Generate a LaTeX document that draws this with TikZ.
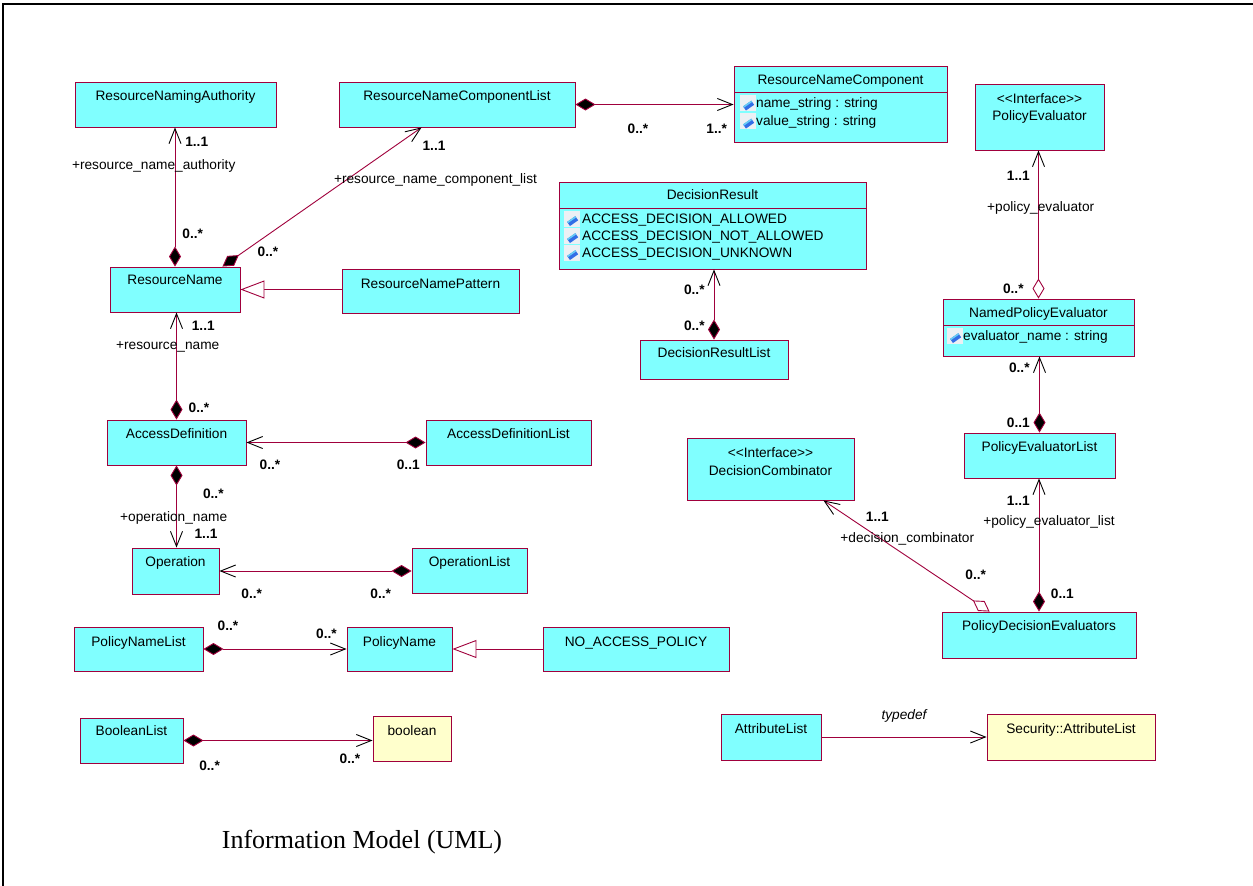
\documentclass[tikz,border=0pt]{standalone}
\usepackage{fontspec}
\newfontfamily\arialf{Liberation Sans}
\newfontfamily\timesf{Liberation Serif}
\usetikzlibrary{arrows.meta,fit,calc}
\definecolor{umlred}{RGB}{160,0,60}
\definecolor{boxcyan}{RGB}{128,255,255}
\definecolor{boxyellow}{RGB}{255,255,204}
\definecolor{iconblue}{RGB}{50,110,230}
\definecolor{iconbg}{RGB}{236,240,244}
\newcommand{\attricon}[2]{%
  \fill[iconbg] ({#1-8},{#2-8}) rectangle ({#1+8},{#2+8});
  \fill[iconblue, rotate around={35:(#1,#2)}] ({#1-6},{#2}) rectangle ({#1+4},{#2+5});
  \fill[cyan!60, rotate around={35:(#1,#2)}] ({#1-6},{#2}) rectangle ({#1+4},{#2+1.5});
}
\tikzset{
  cls/.style={draw=umlred, fill=boxcyan, line width=0.9pt, inner sep=0pt},
  ylw/.style={cls, fill=boxyellow},
  sepline/.style={draw=umlred, line width=0.9pt},
  conn/.style={draw=umlred, line width=0.9pt},
  barb/.tip={Straight Barb[length=15pt,width=12pt,color=black]},
  nav/.style={conn, -barb},
  comp/.style={conn, {Diamond[length=20pt,width=12pt,fill=black]}-barb},
  agg/.style={conn, {Diamond[length=20pt,width=12pt,fill=white]}-barb},
  gen/.style={conn, -{Triangle[length=24pt,width=18pt,fill=white]}},
  txt/.style={font=\arialf\fontsize{13.7}{16}\selectfont, inner sep=0pt, anchor=base},
  attr/.style={txt, anchor=base west},
  mult/.style={font=\arialf\bfseries\fontsize{13.7}{16}\selectfont, inner sep=0pt, anchor=base},
  role/.style={txt},
}
\begin{document}
\begin{tikzpicture}[x=1pt,y=-1pt]
\useasboundingbox (0,0) rectangle (1253,886);
\fill[white] (0,0) rectangle (1253,886);
% frame
\draw[line width=1.6pt] (3,886) -- (3,4) -- (1253,4);

% ---------- classes ----------
\node[cls, fit={(75,82)(276,127)}] (rna) {};
\node[txt] (rna-t) at (175.5,100.5) {ResourceNamingAuthority};

\node[cls, fit={(339,82)(575,127)}] (rncl) {};
\node[txt] (rncl-t) at (457,100.5) {ResourceNameComponentList};

\node[cls, fit={(734,66)(947,142)}] (rnc) {};
\node[txt] (rnc-t) at (840.5,84.3) {ResourceNameComponent};
\draw[sepline] (734,92) -- (947,92);
\attricon{748}{103}
\attricon{748}{121}
\node[attr] (rnc-a1) at (756,107.7) {name\_string : string};
\node[attr] (rnc-a2) at (756,125.7) {value\_string : string};

\node[cls, fit={(975,84)(1104,150)}] (pe) {};
\node[txt] (pe-s) at (1039.5,103.3) {<<Interface>>};
\node[txt] (pe-t) at (1039.5,120.7) {PolicyEvaluator};

\node[cls, fit={(559,182)(866,269)}] (dr) {};
\node[txt] (dr-t) at (712.5,199) {DecisionResult};
\draw[sepline] (559,208) -- (866,208);
\attricon{572}{218.5}
\attricon{572}{235.5}
\attricon{572}{252.5}
\node[attr] (dr-a1) at (582,223.3) {ACCESS\_DECISION\_ALLOWED};
\node[attr] (dr-a2) at (582,240.3) {ACCESS\_DECISION\_NOT\_ALLOWED};
\node[attr] (dr-a3) at (582,257.7) {ACCESS\_DECISION\_UNKNOWN};

\node[cls, fit={(640,340)(788,379)}] (drl) {};
\node[txt] (drl-t) at (714,357.7) {DecisionResultList};

\node[cls, fit={(943,299)(1134,356)}] (npe) {};
\node[txt] (npe-t) at (1038.5,317.3) {NamedPolicyEvaluator};
\draw[sepline] (943,325) -- (1134,325);
\attricon{955}{335.5}
\node[attr] (npe-a1) at (963,340) {evaluator\_name : string};

\node[cls, fit={(964,433)(1115,478)}] (pel) {};
\node[txt] (pel-t) at (1039.5,451.7) {PolicyEvaluatorList};

\node[cls, fit={(110,267)(240,312)}] (rn) {};
\node[txt] (rn-t) at (175,284.3) {ResourceName};

\node[cls, fit={(342,269)(519,313)}] (rnp) {};
\node[txt] (rnp-t) at (430.5,288) {ResourceNamePattern};

\node[cls, fit={(107,420)(246,465)}] (ad) {};
\node[txt] (ad-t) at (176.5,438.3) {AccessDefinition};

\node[cls, fit={(426,420)(591,465)}] (adl) {};
\node[txt] (adl-t) at (508.5,438.3) {AccessDefinitionList};

\node[cls, fit={(132,548)(219,594)}] (op) {};
\node[txt] (op-t) at (175.5,566) {Operation};

\node[cls, fit={(412,548)(527,593)}] (opl) {};
\node[txt] (opl-t) at (469.5,566.3) {OperationList};

\node[cls, fit={(687,438)(854,500)}] (dc) {};
\node[txt] (dc-s) at (770.5,457.3) {<<Interface>>};
\node[txt] (dc-t) at (770.5,475.7) {DecisionCombinator};

\node[cls, fit={(942,612)(1136,658)}] (pde) {};
\node[txt] (pde-t) at (1039,630) {PolicyDecisionEvaluators};

\node[cls, fit={(74,627)(203,671)}] (pnl) {};
\node[txt] (pnl-t) at (138.5,646.7) {PolicyNameList};

\node[cls, fit={(347,627)(452,671)}] (pn) {};
\node[txt] (pn-t) at (399.5,646.7) {PolicyName};

\node[cls, fit={(543,627)(729,671)}] (nap) {};
\node[txt] (nap-t) at (636,646.7) {NO\_ACCESS\_POLICY};

\node[cls, fit={(80,718)(183,763)}] (bl) {};
\node[txt] (bl-t) at (131.5,735) {BooleanList};

\node[ylw, fit={(373,716)(451,761)}] (bool) {};
\node[txt] (bool-t) at (412,735) {boolean};

\node[cls, fit={(721,714)(821,760)}] (al) {};
\node[txt] (al-t) at (771,733.3) {AttributeList};

\node[ylw, fit={(987,714)(1155,760)}] (sal) {};
\node[txt] (sal-t) at (1071,733.3) {Security::AttributeList};

% ---------- connectors ----------
\draw[comp] (rn.north) -- (rn.north |- rna.south);
\draw[comp] ([xshift=-18pt]rn.north east) -- ([xshift=83pt]rncl.south west);
\draw[comp] (rncl.east) -- (rncl.east -| rnc.west);
\draw[gen] (rnp.west |- rn.east) -- (rn.east);
\draw[comp] (ad.north) -- (ad.north |- rn.south);
\draw[comp] (adl.west |- ad.east) -- (ad.east);
\draw[comp] (ad.south) -- (ad.south |- op.north);
\draw[comp] (opl.west |- op.east) -- (op.east);
\draw[comp] (drl.north) -- (drl.north |- dr.south);
\draw[agg] (npe.north) -- (npe.north |- pe.south);
\draw[comp] (pel.north) -- (pel.north |- npe.south);
\draw[comp] (pde.north) -- (pde.north |- pel.south);
\draw[agg] ([xshift=48pt]pde.north west) -- ([xshift=-31pt]dc.south east);
\draw[comp] (pnl.east) -- (pnl.east -| pn.west);
\draw[gen] (nap.west) -- (nap.west -| pn.east);
\draw[comp] (bl.east) -- (bl.east -| bool.west);
\draw[nav] (al.east) -- (al.east -| sal.west);

% ---------- labels ----------
\node[mult] (m1) at (196.7,146) {1..1};
\node[role] (r1) at (153.7,169.5) {+resource\_name\_authority};
\node[mult] (m2) at (192.7,238) {0..*};
\node[mult] (m3) at (268,256) {0..*};
\node[mult] (m4) at (434,150.7) {1..1};
\node[role] (r2) at (435.5,183) {+resource\_name\_component\_list};
\node[mult] (m5) at (638,133.7) {0..*};
\node[mult] (m6) at (716.7,133.7) {1..*};
\node[mult] (m7) at (203.3,330) {1..1};
\node[role] (r3) at (167.7,349) {+resource\_name};
\node[mult] (m8) at (199,412.7) {0..*};
\node[mult] (m9) at (270,469.7) {0..*};
\node[mult] (m10) at (408.3,469.7) {0..1};
\node[mult] (m11) at (213.3,498.3) {0..*};
\node[role] (r4) at (173.7,521.5) {+operation\_name};
\node[mult] (m12) at (206,538.3) {1..1};
\node[mult] (m13) at (251.7,598.3) {0..*};
\node[mult] (m14) at (380.7,598.3) {0..*};
\node[mult] (m15) at (694.3,294) {0..*};
\node[mult] (m16) at (694.3,330) {0..*};
\node[mult] (m17) at (1018.3,180.3) {1..1};
\node[role] (r5) at (1040.7,211.5) {+policy\_evaluator};
\node[mult] (m18) at (1013.3,293.3) {0..*};
\node[mult] (m19) at (1019.3,372.3) {0..*};
\node[mult] (m20) at (1018.3,427.7) {0..1};
\node[mult] (m21) at (1018.3,505) {1..1};
\node[role] (r6) at (1049,525) {+policy\_evaluator\_list};
\node[mult] (m22) at (1062.3,598.3) {0..1};
\node[mult] (m23) at (877.3,521.7) {1..1};
\node[role] (r7) at (907.3,542.3) {+decision\_combinator};
\node[mult] (m24) at (975.7,579) {0..*};
\node[mult] (m25) at (228,630) {0..*};
\node[mult] (m26) at (326.5,638) {0..*};
\node[mult] (m27) at (209.6,770) {0..*};
\node[mult] (m28) at (350,763) {0..*};
\node[txt, font=\arialf\itshape\fontsize{13.7}{16}\selectfont] (td) at (904,719) {typedef};
\node[font=\timesf\fontsize{26}{30}\selectfont, inner sep=0pt, anchor=base] (cap) at (362,848) {Information Model (UML)};
\end{tikzpicture}
\end{document}
